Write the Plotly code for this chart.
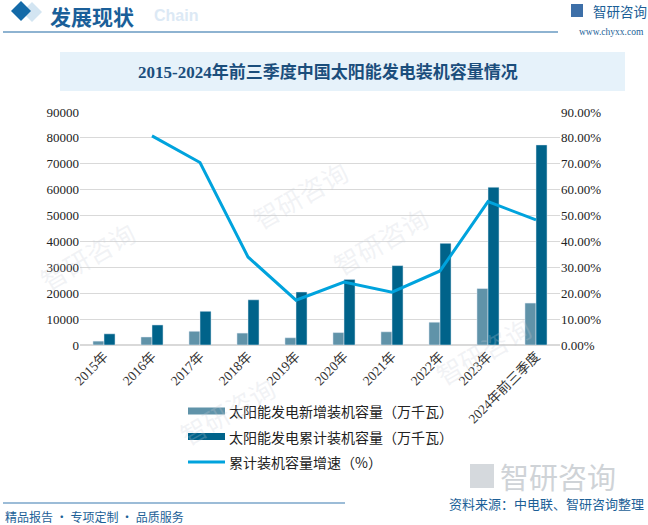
import plotly.graph_objects as go

years = ["2015年", "2016年", "2017年", "2018年", "2019年", "2020年", "2021年", "2022年", "2023年", "2024年前三季度"]
new_cap = [1500, 3100, 5300, 4600, 2800, 4800, 5100, 8800, 21800, 16200]
cum_cap = [4318, 7742, 13025, 17463, 20468, 25343, 30656, 39261, 60949, 77292]
growth = [None, 0.808, 0.705, 0.340, 0.173, 0.243, 0.204, 0.286, 0.554, 0.483]

name_new = "太阳能发电新增装机容量（万千瓦）"
name_cum = "太阳能发电累计装机容量（万千瓦）"
name_gr = "累计装机容量增速（%）"

C_NEW = "#6093a9"
C_CUM = "#00638a"
C_LINE = "#00a3dd"
C_DARK = "#1c5f97"

W, H = 648, 525
L, R, T, B = 80, 88, 112, 180
PW = W - L - R
PH = H - T - B


def px(x):
    return (x - L) / PW


def py(y):
    return (H - B - y) / PH


fig = go.Figure()
fig.add_trace(go.Bar(x=years, y=new_cap, name=name_new, marker_color=C_NEW, showlegend=False))
fig.add_trace(go.Bar(x=years, y=cum_cap, name=name_cum, marker_color=C_CUM, showlegend=False))
fig.add_trace(go.Scatter(x=years, y=growth, name=name_gr, mode="lines", yaxis="y2",
                         line=dict(color=C_LINE, width=3), showlegend=False))

serif = "Liberation Serif, Noto Sans CJK SC, serif"
sans = "Noto Sans CJK SC, sans-serif"

shapes = []
ann = []

# header
ann.append(dict(x=px(152), y=py(16), xref="paper", yref="paper", text="<b>Chain</b>",
                showarrow=False, xanchor="left", yanchor="middle",
                font=dict(family="Liberation Sans, sans-serif", size=16, color="#dce9f5")))
shapes.append(dict(type="path", xref="paper", yref="paper",
                   path=f"M {px(32)} {py(2)} L {px(42)} {py(12)} L {px(32)} {py(22)} L {px(22)} {py(12)} Z",
                   fillcolor="#d3e5f2", line=dict(width=0), layer="above"))
shapes.append(dict(type="path", xref="paper", yref="paper",
                   path=f"M {px(21)} {py(1)} L {px(31)} {py(11)} L {px(21)} {py(21)} L {px(11)} {py(11)} Z",
                   fillcolor="#136aa8", line=dict(width=0), layer="above"))
ann.append(dict(x=px(49), y=py(0), xref="paper", yref="paper", text="<b>发展现状</b>",
                showarrow=False, xanchor="left", yanchor="top", borderpad=0,
                font=dict(family=sans, size=21, color="#1a5f99")))
shapes.append(dict(type="line", xref="paper", yref="paper", x0=px(3), x1=px(558), y0=py(32), y1=py(32),
                   line=dict(color="#1e69a3", width=1.2)))
# top logo
shapes.append(dict(type="rect", xref="paper", yref="paper", x0=px(571), x1=px(583), y0=py(4), y1=py(17),
                   fillcolor="#3d6fa8", line=dict(width=0)))
ann.append(dict(x=px(591), y=py(11), xref="paper", yref="paper", text="智研咨询",
                showarrow=False, xanchor="left", yanchor="middle",
                font=dict(family=sans, size=13.5, color="#1c5f97")))
ann.append(dict(x=px(646), y=py(32), xref="paper", yref="paper", text="www.chyxx.com",
                showarrow=False, xanchor="right", yanchor="middle",
                font=dict(family=serif, size=9.5, color="#1c5f97")))

# title box
shapes.append(dict(type="rect", xref="paper", yref="paper", x0=px(60), x1=px(625), y0=py(52), y1=py(91),
                   fillcolor="#e6f2fa", line=dict(width=0), layer="below"))
ann.append(dict(x=px(328), y=py(72), xref="paper", yref="paper",
                text="<b>2015-2024年前三季度中国太阳能发电装机容量情况</b>",
                showarrow=False, xanchor="center", yanchor="middle",
                font=dict(family=serif, size=17, color="#1b4e7c")))

# custom legend
leg_x = 188
for i, (nm, col, kind) in enumerate([(name_new, C_NEW, "bar"), (name_cum, C_CUM, "bar"), (name_gr, C_LINE, "line")]):
    yy = 411 + i * 25.5
    if kind == "bar":
        shapes.append(dict(type="rect", xref="paper", yref="paper", x0=px(leg_x), x1=px(leg_x + 37),
                           y0=py(yy - 3.5), y1=py(yy + 3.5), fillcolor=col, line=dict(width=0)))
    else:
        shapes.append(dict(type="line", xref="paper", yref="paper", x0=px(leg_x), x1=px(leg_x + 37),
                           y0=py(yy), y1=py(yy), line=dict(color=col, width=3)))
    ann.append(dict(x=px(leg_x + 39), y=py(yy), xref="paper", yref="paper", text=nm,
                    showarrow=False, xanchor="left", yanchor="middle",
                    font=dict(family=sans, size=14, color="#222222")))

# footer
shapes.append(dict(type="line", xref="paper", yref="paper", x0=px(3), x1=px(345), y0=py(503), y1=py(503),
                   line=dict(color="#3a7bb0", width=1.2)))
ann.append(dict(x=px(3), y=py(516), xref="paper", yref="paper", text="精品报告 · 专项定制 · 品质服务",
                showarrow=False, xanchor="left", yanchor="middle",
                font=dict(family=sans, size=12, color="#1c5f97")))
ann.append(dict(x=px(646), y=py(503), xref="paper", yref="paper", text="资料来源：中电联、智研咨询整理",
                showarrow=False, xanchor="right", yanchor="middle",
                font=dict(family=sans, size=13, color="#1c5f97")))
# bottom-right watermark logo
shapes.append(dict(type="rect", xref="paper", yref="paper", x0=px(470), x1=px(494), y0=py(464), y1=py(488),
                   fillcolor="#d5d9dd", line=dict(width=0), layer="below"))
ann.append(dict(x=px(498), y=py(476), xref="paper", yref="paper", text="智研咨询",
                showarrow=False, xanchor="left", yanchor="middle",
                font=dict(family=sans, size=29, color="#cfd3d7")))

# faint watermarks
for (wx, wy) in [(300, 150), (380, 240), (170, 455), (540, 395), (30, 255)]:
    ann.append(dict(x=px(wx), y=py(wy), xref="paper", yref="paper", text="智研咨询",
                    showarrow=False, textangle=-30,
                    font=dict(family=sans, size=26, color="rgba(200,205,215,0.25)")))

fig.update_layout(
    width=W, height=H,
    margin=dict(l=L, r=R, t=T, b=B),
    paper_bgcolor="white", plot_bgcolor="white",
    barmode="group", bargap=0.54, bargroupgap=0,
    xaxis=dict(tickangle=-45, tickfont=dict(family=serif, size=13.5, color="#333333"),
               showgrid=False, showline=False, ticks=""),
    yaxis=dict(range=[0, 90000], dtick=10000, tickformat="d",
               tickfont=dict(family=serif, size=13, color="#222222"),
               gridcolor="#d9d9d9", gridwidth=1, zeroline=True, zerolinecolor="#d9d9d9", ticks=""),
    yaxis2=dict(range=[0, 0.9], dtick=0.1, tickformat=".2%", overlaying="y", side="right",
                tickfont=dict(family=serif, size=13, color="#222222"),
                showgrid=False, zeroline=False, ticks=""),
    shapes=shapes, annotations=ann,
    showlegend=False,
)

fig.write_html("out.html", config={"displayModeBar": False},
               post_script="document.body.style.margin='0';document.body.style.overflow='hidden';")
